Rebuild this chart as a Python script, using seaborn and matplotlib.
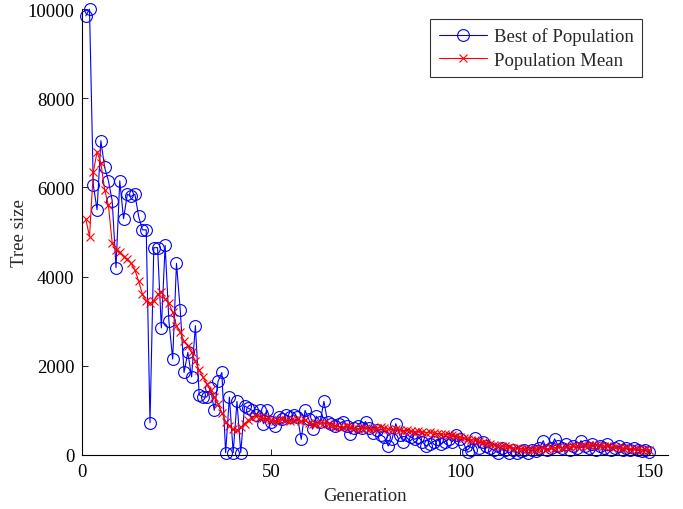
import numpy as np
import pandas as pd
import matplotlib
matplotlib.use("Agg")
import matplotlib.pyplot as plt
import seaborn as sns

best = [9850, 10000, 6050, 5500, 7050, 6450, 6150, 5700, 4200, 6150,
        5300, 5850, 5800, 5850, 5350, 5050, 5050, 720, 4650, 4650,
        2850, 4700, 3000, 2150, 4300, 3250, 1850, 2300, 1750, 2900,
        1350, 1300, 1300, 1500, 1000, 1650, 1850, 50, 1300, 50,
        1200, 50, 1100, 1050, 1000, 900, 1000, 700, 1000, 750,
        650, 850, 800, 900, 850, 900, 850, 350, 1000, 800,
        580, 870, 750, 1200, 730, 700, 650, 700, 750, 650,
        470, 600, 650, 600, 750, 600, 500, 550, 450, 400,
        200, 350, 700, 450, 300, 450, 400, 350, 400, 300,
        200, 250, 300, 350, 250, 300, 350, 300, 450, 350,
        250, 60, 100, 380, 150, 300, 200, 150, 100, 50,
        150, 100, 50, 100, 50, 80, 100, 50, 100, 80,
        150, 320, 100, 150, 360, 200, 150, 250, 100, 200,
        150, 320, 200, 150, 250, 100, 200, 150, 250, 100,
        150, 200, 100, 150, 100, 150, 100, 80, 120, 60]

mean = [5300, 4900, 6350, 6800, 6550, 5950, 5600, 4750, 4600, 4550,
        4450, 4400, 4300, 4150, 3900, 3600, 3450, 3400, 3450, 3600,
        3650, 3500, 3400, 3200, 2900, 2750, 2550, 2450, 2300, 2100,
        1900, 1750, 1600, 1450, 1300, 1150, 950, 750, 650, 580,
        550, 620, 700, 780, 830, 870, 850, 820, 800, 780,
        760, 790, 800, 780, 760, 780, 800, 760, 780, 720,
        700, 690, 710, 720, 700, 680, 650, 630, 620, 640,
        620, 600, 590, 610, 600, 590, 580, 600, 620, 600,
        580, 560, 580, 560, 540, 550, 530, 520, 540, 520,
        500, 510, 490, 480, 470, 460, 450, 440, 430, 400,
        380, 360, 340, 330, 310, 290, 270, 250, 230, 210,
        200, 190, 170, 160, 150, 140, 130, 130, 120, 130,
        140, 150, 140, 150, 160, 170, 160, 170, 180, 190,
        200, 200, 210, 220, 230, 220, 210, 200, 190, 180,
        170, 160, 150, 150, 140, 130, 130, 120, 120, 110]

generations = list(range(1, len(best) + 1))
x_ticks = [0, 50, 100, 150]
y_ticks = [0, 2000, 4000, 6000, 8000, 10000]

sns.set_style("white")
plt.rcParams['font.family'] = ['Liberation Serif', 'DejaVu Serif']

FS = 13.5

fig = plt.figure(figsize=(6.83, 5.10), dpi=100)
ax = fig.add_axes([0.120, 0.106, 0.858, 0.874])

df = pd.DataFrame({"Generation": generations, "best": best, "mean": mean})

sns.lineplot(data=df, x="Generation", y="best", ax=ax, color="blue",
             marker="o", markersize=8.5, markerfacecolor="none",
             markeredgecolor="blue", markeredgewidth=0.8, linewidth=0.8,
             label="Best of Population", clip_on=False)
sns.lineplot(data=df, x="Generation", y="mean", ax=ax, color="red",
             marker="x", markersize=5.5, markeredgecolor="red",
             markeredgewidth=0.8, linewidth=0.8,
             label="Population Mean", clip_on=False)

ax.set_xlim(0, 155)
ax.set_ylim(0, 10000)
ax.set_xticks(x_ticks)
ax.set_yticks(y_ticks)
ax.tick_params(direction="in", length=4, width=0.6, labelsize=FS,
               left=True, bottom=True, colors="black")
ax.tick_params(axis="x", pad=5.5)
ax.tick_params(axis="y", pad=5.5)
for s in ["top", "right"]:
    ax.spines[s].set_visible(False)
for s in ["left", "bottom"]:
    ax.spines[s].set_color("black")
    ax.spines[s].set_linewidth(0.8)

ax.set_xlabel("Generation", fontsize=FS)
ax.set_ylabel("Tree size", fontsize=FS)
ax.xaxis.set_label_coords(0.483, -0.092, transform=ax.transAxes)
ax.xaxis.label.set_va("center")
ax.yaxis.set_label_coords(-0.106, 0.5, transform=ax.transAxes)
ax.yaxis.label.set_va("center")

leg = ax.legend(loc="upper right", bbox_to_anchor=(0.956, 0.978),
                borderaxespad=0, fontsize=FS, frameon=True, fancybox=False,
                edgecolor="black", handlelength=2.6, handletextpad=0.35,
                borderpad=0.45, labelspacing=0.35)
leg.get_frame().set_linewidth(0.8)

fig.savefig("out.png", dpi=100)
